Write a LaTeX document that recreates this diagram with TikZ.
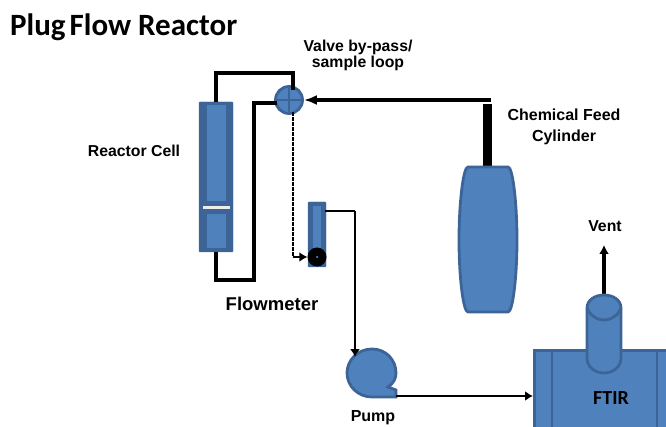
\documentclass[tikz,border=0pt]{standalone}
\usepackage{fontspec}
\setmainfont{Liberation Sans}
\newfontfamily\titlefont{Carlito}
\usetikzlibrary{positioning, calc, arrows.meta}
\definecolor{fillblue}{HTML}{4F81BD}
\definecolor{edgeblue}{HTML}{3C6496}
\begin{document}
\begin{tikzpicture}[
        x=1pt, y=-1pt,
        equip/.style={
          fill=fillblue,
          draw=edgeblue,
          line width=2.8pt
        },
        tube/.style={
          draw=edgeblue,
          fill=edgeblue,
          rectangle,
          rounded corners=1pt,
          inner sep=0pt
        },
        core/.style={
          fill=fillblue,
          rectangle,
          inner sep=0pt
        },
        pipe/.style={
          draw=black,
          line width=3.3pt
        },
        thinpipe/.style={
          draw=black,
          line width=2.4pt
        },
        head/.style={
          -{Latex[length=#1pt,width=10pt]}
        },
        lbl/.style={
          font=\bfseries\fontsize{15.8}{16}\selectfont,
          align=center,
          inner sep=0pt
        }
      ]
        \useasboundingbox (0,0) rectangle (666,427);

        % reactor cell
        \node[tube,minimum width=34pt,minimum height=150pt] (reactor) at (216,177) {};
        \node[core,minimum width=19pt,minimum height=96pt] (bedtop) at (216,153.5) {};
        \node[core,minimum width=19pt,minimum height=34pt] (bedlow) at (216,231) {};
        \node[fill=white!85!gray,minimum width=27pt,minimum height=3pt,inner sep=0pt] (frit) at (216,208) {};

        % valve
        \node[circle,equip,minimum size=27pt,inner sep=0pt] (valve) at (289,100) {};
        \draw[edgeblue,line width=1.8pt] (valve.north) -- (valve.south);
        \draw[edgeblue,line width=1.8pt] (valve.west) -- (valve.east);

        % flowmeter
        \node[tube,minimum width=18pt,minimum height=65pt] (meter) at (317,234.5) {};
        \node[core,minimum width=8pt,minimum height=45pt] (metercore) at (317,229) {};
        \node[circle,fill=black,minimum size=19pt,inner sep=0pt] (ball) at (317,257) {};
        \node[circle,fill=fillblue,minimum size=2.5pt,inner sep=0pt] (balldot) at (ball) {};

        % feed cylinder
        \node[rectangle,fill=black,minimum width=9pt,minimum height=64pt,inner sep=0pt] (neck) at (487,136) {};
        \draw[equip] (468,167) -- (508,167)
          .. controls (513,167) and (517,205) .. (517,240)
          .. controls (517,275) and (513,312) .. (508,312)
          -- (468,312)
          .. controls (463,312) and (459,275) .. (459,240)
          .. controls (459,205) and (463,167) .. (468,167) -- cycle;
        \coordinate (feed) at (491,100);

        % pump
        \draw[equip] (396,397) -- (372,397)
          .. controls (358,397) and (347,386) .. (347,373)
          .. controls (347,360) and (358,349) .. (372,349)
          .. controls (386,349) and (396,360) .. (396,373)
          .. controls (396,378) and (394,383) .. (388,387)
          -- (396,390) -- cycle;
        \coordinate (pumpin) at (355,357);
        \coordinate (pumpout) at (396,396);

        % FTIR
        \node[rectangle,equip,minimum width=135pt,minimum height=78pt,inner sep=0pt,anchor=north west] (ftir) at (533,349) {};
        \draw[edgeblue,line width=2.8pt] (552,349) -- (552,427);
        \draw[edgeblue,line width=2.8pt] (657,349) -- (657,427);
        \coordinate (vent) at (604,245);
        \coordinate (ventbase) at (604,296);
        \draw[pipe,line width=4.4pt,head=9] (ventbase) -- (vent);
        \draw[equip] (587,308) .. controls (587,300) and (595,295) .. (604,295)
          .. controls (613,295) and (621,300) .. (621,308)
          -- (621,358) .. controls (621,367) and (613,373) .. (604,373)
          .. controls (595,373) and (587,367) .. (587,358) -- cycle;
        \draw[edgeblue,line width=2.8pt] (587,308) .. controls (589,314) and (596,320) .. (604,320)
          .. controls (612,320) and (619,314) .. (621,308);

        % lines
        \draw[pipe] (reactor.north) -- (216,73) -- (293,73) -- (293,90);
        \draw[pipe] (277,103) -- (254,103) -- (254,280) -- (216,280) -- (reactor.south);
        \draw[pipe,head=13] (feed) -- (valve.east);
        \draw[thinpipe,dash pattern=on 4pt off 1pt,line width=2.8pt] (293,112) -- (293,257);
        \draw[thinpipe,head=8] (293,257) -- (ball.west);
        \draw[thinpipe] (325,211) -- (355,211);
        \draw[thinpipe,head=8] (355,211) -- (pumpin);
        \draw[pipe,line width=2.8pt,head=8] (pumpout) -- (ftir.west |- pumpout);

        % labels
        \node[font=\titlefont\bfseries\fontsize{31}{32}\selectfont,anchor=west,inner sep=0pt] (title) at (10,27) {Plug\hspace{-3pt} Flow Reactor};
        \node[lbl] (valvelbl) at (358,55.5) {Valve by-pass/\\sample loop};
        \node[lbl] (reactorlbl) at (134,151) {Reactor Cell};
        \node[lbl,font=\bfseries\fontsize{16}{20.5}\selectfont] (feedlbl) at (564,127) {Chemical Feed\\Cylinder};
        \node[lbl,font=\bfseries\fontsize{18.5}{20}\selectfont] (meterlbl) at (272,304) {Flowmeter};
        \node[lbl,font=\bfseries\fontsize{16}{18}\selectfont] (pumplbl) at (373,418) {Pump};
        \node[lbl] (ventlbl) at (605,226) {Vent};
        \node[lbl,font=\titlefont\bfseries\fontsize{20}{22}\selectfont] (ftirlbl) at (611,398) {FTIR};
      \end{tikzpicture}
\end{document}
